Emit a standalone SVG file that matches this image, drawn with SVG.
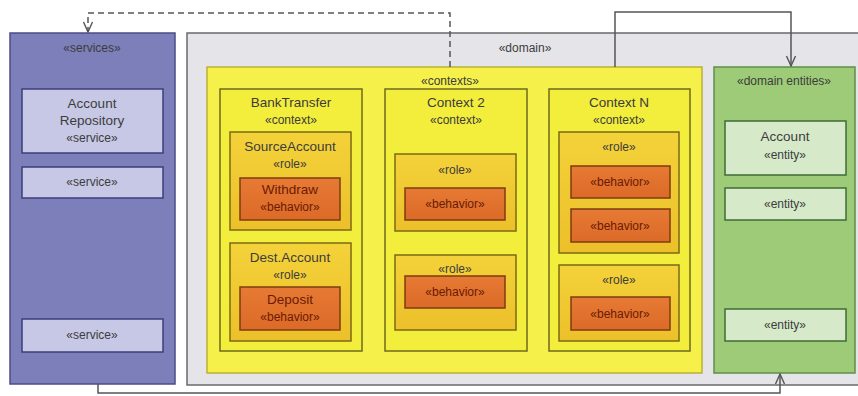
<svg xmlns="http://www.w3.org/2000/svg" width="858" height="396" viewBox="0 0 858 396">
  <defs>
    <marker id="open" viewBox="0 0 12 12" refX="11" refY="6" markerWidth="12" markerHeight="12" markerUnits="userSpaceOnUse" orient="auto">
      <path d="M1,1.5 L11,6 L1,10.5" fill="none" stroke="#555" stroke-width="1.4"/>
    </marker>
    <linearGradient id="roleFill" x1="0" y1="0" x2="0" y2="1">
      <stop offset="0" stop-color="#f4d23a"/>
      <stop offset="1" stop-color="#ecc02a"/>
    </linearGradient>
    <linearGradient id="behFill" x1="0" y1="0" x2="0" y2="1">
      <stop offset="0" stop-color="#e67a34"/>
      <stop offset="1" stop-color="#dc6a28"/>
    </linearGradient>
    <style>
      text { font-family: "Liberation Sans", Arial, sans-serif; font-size: 13.5px; fill: #3c3c3c; text-anchor: middle; }
      .st { font-size: 12px; }
      .beh text { fill: #6a1a04; }
      .services { fill: #7c7fb9; stroke: #4b4c86; stroke-width: 1.5; }
      .service { fill: #c7c8e6; stroke: #3d3e7a; stroke-width: 1.5; }
      .domain { fill: #e5e5e9; stroke: #6a6a6a; stroke-width: 1.5; }
      .contexts { fill: #f5f04a; stroke: #b9b134; stroke-width: 1.5; }
      .context { fill: #f3ed3c; stroke: #6e6a1e; stroke-width: 1.5; }
      .role { fill: url(#roleFill); stroke: #7c6a16; stroke-width: 1.5; }
      .behavior { fill: url(#behFill); stroke: #7e3c10; stroke-width: 1.5; }
      .entities { fill: #9dcb78; stroke: #5f8f48; stroke-width: 1.5; }
      .entity { fill: #d6eaca; stroke: #3f6b35; stroke-width: 1.5; }
      .conn { fill: none; stroke: #555; stroke-width: 1.5; }
    </style>
  </defs>

  <rect width="858" height="396" fill="#ffffff"/>

  <!-- services layer -->
  <g id="services">
    <rect class="services" x="10" y="33" width="165" height="351"/>
    <text class="st" x="92" y="52">«services»</text>
  </g>
  <g id="service-account-repository">
    <rect class="service" x="22" y="89" width="141" height="64"/>
    <text x="92" y="108">Account</text>
    <text x="92" y="125">Repository</text>
    <text class="st" x="92" y="142">«service»</text>
  </g>
  <g id="service-2">
    <rect class="service" x="22" y="167" width="141" height="31"/>
    <text class="st" x="92" y="186">«service»</text>
  </g>
  <g id="service-3">
    <rect class="service" x="22" y="319" width="141" height="33"/>
    <text class="st" x="92" y="339">«service»</text>
  </g>

  <!-- domain layer -->
  <g id="domain">
    <rect class="domain" x="187" y="33" width="680" height="352"/>
    <text class="st" x="525" y="52">«domain»</text>
  </g>

  <g id="contexts">
    <rect class="contexts" x="207" y="67" width="495" height="306"/>
    <text class="st" x="450" y="85">«contexts»</text>
  </g>

  <!-- BankTransfer context -->
  <g id="context-banktransfer">
    <rect class="context" x="220" y="89" width="142" height="262"/>
    <text x="291" y="107">BankTransfer</text>
    <text class="st" x="291" y="124">«context»</text>
  </g>
  <g id="role-sourceaccount">
    <rect class="role" x="230" y="132" width="121" height="98"/>
    <text x="290" y="151">SourceAccount</text>
    <text class="st" x="290" y="168">«role»</text>
  </g>
  <g id="behavior-withdraw" class="beh">
    <rect class="behavior" x="240" y="178" width="100" height="42"/>
    <text x="290" y="194">Withdraw</text>
    <text class="st" x="290" y="211">«behavior»</text>
  </g>
  <g id="role-destaccount">
    <rect class="role" x="230" y="243" width="121" height="98"/>
    <text x="290" y="262">Dest.Account</text>
    <text class="st" x="290" y="279">«role»</text>
  </g>
  <g id="behavior-deposit" class="beh">
    <rect class="behavior" x="240" y="287" width="100" height="43"/>
    <text x="290" y="304">Deposit</text>
    <text class="st" x="290" y="321">«behavior»</text>
  </g>

  <!-- Context 2 -->
  <g id="context-2">
    <rect class="context" x="385" y="89" width="142" height="262"/>
    <text x="456" y="107">Context 2</text>
    <text class="st" x="456" y="124">«context»</text>
  </g>
  <g id="context-2-role-1">
    <rect class="role" x="395" y="154" width="121" height="77"/>
    <text class="st" x="455" y="174">«role»</text>
  </g>
  <g id="context-2-behavior-1" class="beh">
    <rect class="behavior" x="405" y="188" width="100" height="32"/>
    <text class="st" x="455" y="208">«behavior»</text>
  </g>
  <g id="context-2-role-2">
    <rect class="role" x="395" y="255" width="121" height="75"/>
    <text class="st" x="455" y="273">«role»</text>
  </g>
  <g id="context-2-behavior-2" class="beh">
    <rect class="behavior" x="405" y="276" width="100" height="32"/>
    <text class="st" x="455" y="296">«behavior»</text>
  </g>

  <!-- Context N -->
  <g id="context-n">
    <rect class="context" x="549" y="89" width="141" height="262"/>
    <text x="619" y="107">Context N</text>
    <text class="st" x="619" y="124">«context»</text>
  </g>
  <g id="context-n-role-1">
    <rect class="role" x="559" y="132" width="120" height="121"/>
    <text class="st" x="619" y="151">«role»</text>
  </g>
  <g id="context-n-behavior-1" class="beh">
    <rect class="behavior" x="571" y="166" width="99" height="32"/>
    <text class="st" x="620" y="186">«behavior»</text>
  </g>
  <g id="context-n-behavior-2" class="beh">
    <rect class="behavior" x="571" y="209" width="99" height="33"/>
    <text class="st" x="620" y="230">«behavior»</text>
  </g>
  <g id="context-n-role-2">
    <rect class="role" x="559" y="265" width="120" height="76"/>
    <text class="st" x="619" y="284">«role»</text>
  </g>
  <g id="context-n-behavior-3" class="beh">
    <rect class="behavior" x="571" y="297" width="99" height="33"/>
    <text class="st" x="620" y="318">«behavior»</text>
  </g>

  <!-- domain entities -->
  <g id="domain-entities">
    <rect class="entities" x="714" y="67" width="141" height="306"/>
    <text class="st" x="784" y="85">«domain entities»</text>
  </g>
  <g id="entity-account">
    <rect class="entity" x="725" y="121" width="121" height="54"/>
    <text x="785" y="141">Account</text>
    <text class="st" x="785" y="159">«entity»</text>
  </g>
  <g id="entity-2">
    <rect class="entity" x="725" y="188" width="121" height="32"/>
    <text class="st" x="785" y="208">«entity»</text>
  </g>
  <g id="entity-3">
    <rect class="entity" x="725" y="309" width="121" height="32"/>
    <text class="st" x="785" y="329">«entity»</text>
  </g>

  <!-- dependencies between layers -->
  <g id="connectors">
    <path class="conn" d="M450,67 V13 H88 V32" stroke-dasharray="6,4" marker-end="url(#open)"/>
    <path class="conn" d="M615,67 V12 H791 V66" marker-end="url(#open)"/>
    <path class="conn" d="M98,384 V393 H780 V374" marker-end="url(#open)"/>
  </g>
</svg>
